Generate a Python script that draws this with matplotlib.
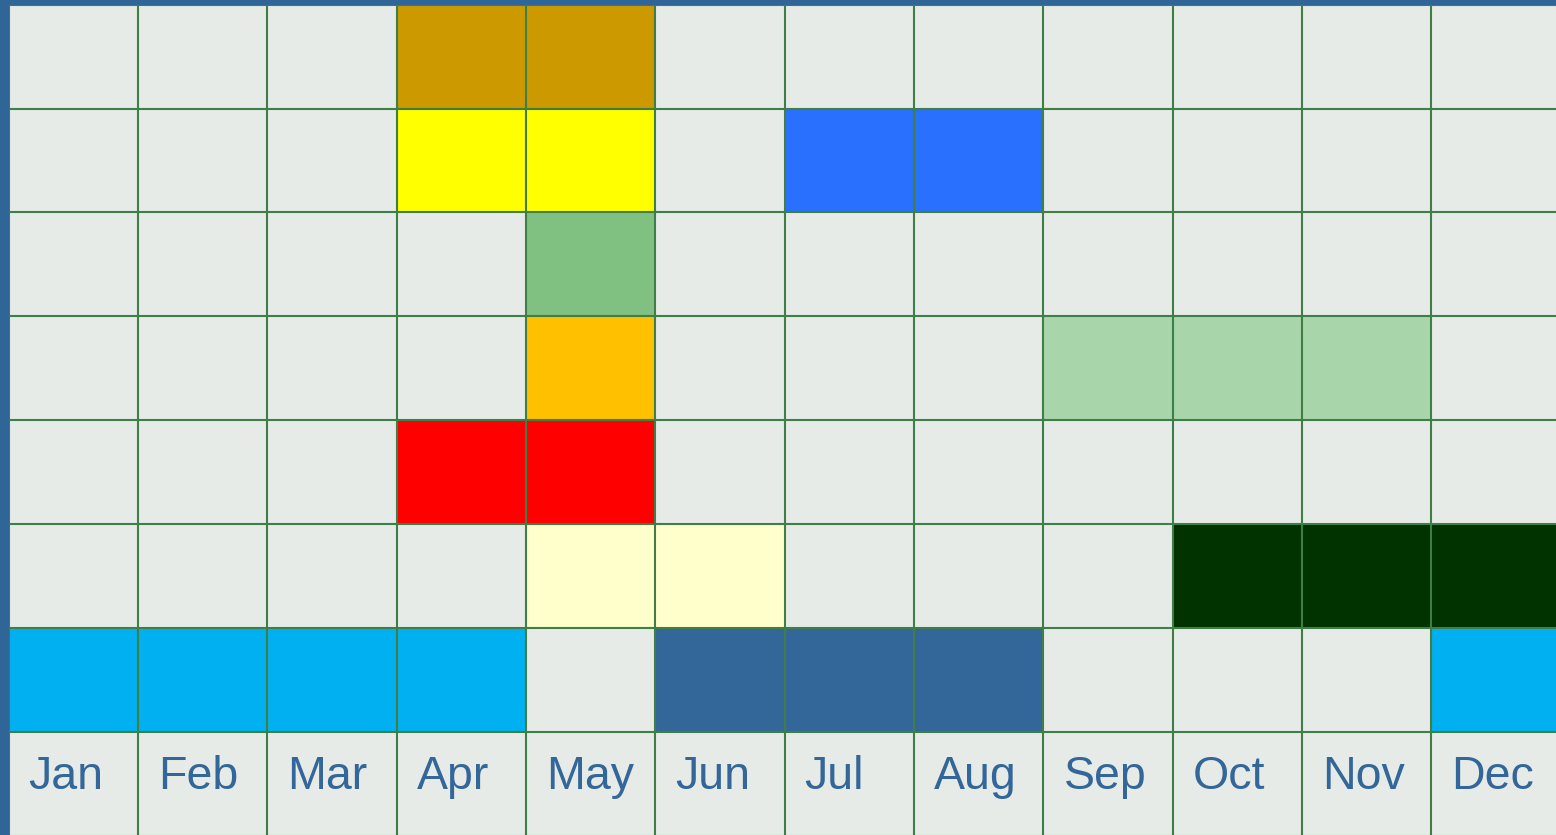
import matplotlib.pyplot as plt

# month labels along the bottom row
months = ['Jan', 'Feb', 'Mar', 'Apr', 'May', 'Jun',
          'Jul', 'Aug', 'Sep', 'Oct', 'Nov', 'Dec']

# coloured spans per row, top to bottom: (first month, last month, colour)
row0 = [(3, 4, '#CC9900')]
row1 = [(3, 4, '#FFFF00'), (6, 7, '#2970FF')]
row2 = [(4, 4, '#80C080')]
row3 = [(4, 4, '#FFC000'), (8, 10, '#A9D5AA')]
row4 = [(3, 4, '#FF0000')]
row5 = [(4, 5, '#FFFFCC'), (9, 11, '#003300')]
row6 = [(0, 3, '#00B0F0'), (5, 7, '#336699'), (11, 11, '#00B0F0')]
rows = [row0, row1, row2, row3, row4, row5, row6]

W, H = 1556, 835
fig = plt.figure(figsize=(W / 100, H / 100), dpi=100)
fig.patch.set_facecolor('#2F6597')

cw = 129.36
rh = 103.86
left = 8.5
top = 4.7
ax = fig.add_axes([left / W, (H - top - 8 * rh) / H, 12 * cw / W, 8 * rh / H])
ax.set_facecolor('#E6EBE7')
ax.set_xlim(0, 12)
ax.set_ylim(8, 0)

# coloured cells
for r, spans in enumerate(rows):
    for a, b, c in spans:
        ax.barh(r + 0.5, b - a + 1, left=a, height=1, color=c, linewidth=0)

# grid
for x in range(0, 13):
    ax.axvline(x, color='#3F7F47', lw=1.5, zorder=3)
for y in range(0, 9):
    ax.axhline(y, color='#3F7F47', lw=1.5, zorder=3)

# month labels
for i, m in enumerate(months):
    ax.text(i + 0.155, 7.55, m, fontsize=33.5, family='Liberation Sans',
            color='#336699', ha='left', va='baseline')

ax.set_xticks([])
ax.set_yticks([])
for s in ax.spines.values():
    s.set_visible(False)

fig.savefig('out.png', dpi=100, facecolor=fig.get_facecolor())
